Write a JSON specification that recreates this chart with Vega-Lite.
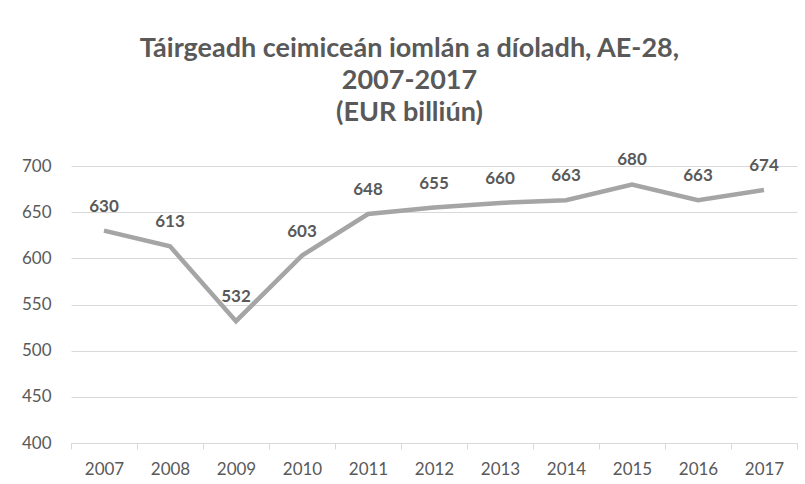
{
  "$schema": "https://vega.github.io/schema/vega-lite/v6.json",
  "width": 726,
  "height": 277,
  "autosize": {"type": "none"},
  "padding": {"left": 71, "top": 166, "right": 8, "bottom": 41},
  "background": "white",
  "title": {
    "text": ["Táirgeadh ceimiceán iomlán a díoladh, AE-28,", "2007-2017", "(EUR billiún)"],
    "font": "Lato",
    "fontSize": 27,
    "fontWeight": "bold",
    "color": "#595959",
    "lineHeight": 32,
    "anchor": "middle",
    "frame": "bounds",
    "offset": 24
  },
  "data": {
    "values": [
      {"year": "2007", "value": 630},
      {"year": "2008", "value": 613},
      {"year": "2009", "value": 532},
      {"year": "2010", "value": 603},
      {"year": "2011", "value": 648},
      {"year": "2012", "value": 655},
      {"year": "2013", "value": 660},
      {"year": "2014", "value": 663},
      {"year": "2015", "value": 680},
      {"year": "2016", "value": 663},
      {"year": "2017", "value": 674}
    ]
  },
  "config": {
    "view": {"stroke": null},
    "axis": {"labelFont": "Lato", "labelFontSize": 17, "labelColor": "#595959", "titleFont": "Lato"}
  },
  "encoding": {
    "x": {
      "field": "year",
      "type": "ordinal",
      "bandPosition": 0.5,
      "scale": {"type": "band", "paddingInner": 0, "paddingOuter": 0},
      "axis": {
        "title": null,
        "labelAngle": 0,
        "tickBand": "extent",
        "domainColor": "#D9D9D9",
        "tickColor": "#D9D9D9",
        "tickSize": 6,
        "labelPadding": 12,
        "grid": false
      }
    },
    "y": {
      "field": "value",
      "type": "quantitative",
      "scale": {"domain": [400, 700], "nice": false, "zero": false},
      "axis": {
        "title": null,
        "values": [400, 450, 500, 550, 600, 650, 700],
        "domain": false,
        "ticks": false,
        "labelPadding": 20,
        "gridColor": "#D9D9D9",
        "gridWidth": 1
      }
    }
  },
  "layer": [
    {
      "mark": {"type": "line", "color": "#A5A5A5", "strokeWidth": 4.5, "strokeJoin": "miter"}
    },
    {
      "mark": {"type": "text", "font": "Lato", "fontSize": 17, "fontWeight": "bold", "color": "#595959", "dy": -24, "baseline": "middle"},
      "encoding": {"text": {"field": "value", "type": "quantitative"}}
    }
  ]
}
